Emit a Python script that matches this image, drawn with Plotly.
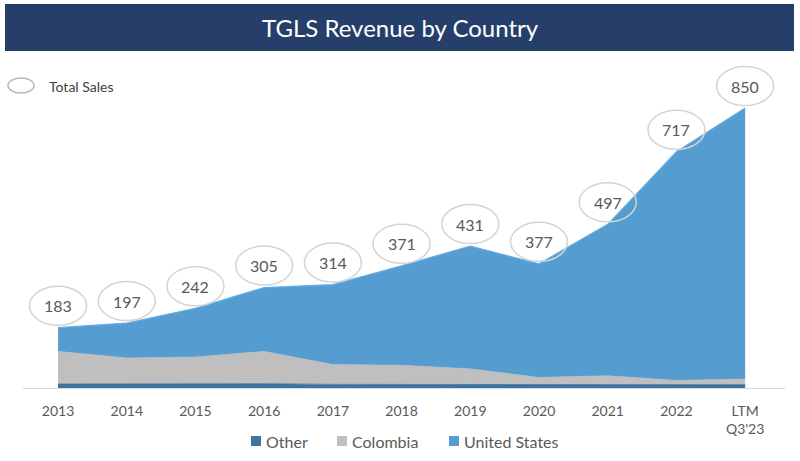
import plotly.graph_objects as go

categories = ["2013", "2014", "2015", "2016", "2017", "2018", "2019", "2020", "2021", "2022", "LTM<br>Q3'23"]
totals = [183, 197, 242, 305, 314, 371, 431, 377, 497, 717, 850]
other = [12, 13, 13, 13, 11, 11, 10, 9, 10, 9, 10]
colombia = [99, 78, 81, 98, 60, 58, 48, 23, 27, 14, 17]
united_states = [t - o - c for t, o, c in zip(totals, other, colombia)]
series_names = ["Other", "Colombia", "United States"]
series_colors = ["#3e729f", "#bfbfbf", "#559dd0"]

FONT = "Lato"
W, H = 800, 461
ML, MR, MT, MB = 23, 15, 0, 73
plot_h = H - MT - MB
plot_w = W - ML - MR
px_per_unit = 0.3294
ymax = plot_h / px_per_unit

def px_x(p):
    return (p - ML) / plot_w

def px_y(p):
    return (H - MB - p) / plot_h

x_idx = list(range(len(categories)))

fig = go.Figure()
fig.add_trace(go.Scatter(x=x_idx, y=other, name=series_names[0], stackgroup="one", mode="lines",
                         line=dict(width=0.8, color="#3a6e9a"), fillcolor=series_colors[0], showlegend=False))
fig.add_trace(go.Scatter(x=x_idx, y=colombia, name=series_names[1], stackgroup="one", mode="lines",
                         line=dict(width=0.8, color="#bdbdbd"), fillcolor=series_colors[1], showlegend=False))
fig.add_trace(go.Scatter(x=x_idx, y=united_states, name=series_names[2], stackgroup="one", mode="lines",
                         line=dict(width=1.2, color="#62aee6"), fillcolor=series_colors[2], showlegend=False))

shapes = []
annotations = []
offset = 22
for i, t in enumerate(totals):
    shapes.append(dict(type="circle", xref="x", yref="y", xsizemode="pixel", ysizemode="pixel",
                       xanchor=i, yanchor=t, x0=-28.5, x1=28.5, y0=offset - 19.5, y1=offset + 19.5,
                       line=dict(color="#d4d4d4", width=1.5), fillcolor="rgba(255,255,255,0)", layer="above"))
    annotations.append(dict(x=i, y=t, xref="x", yref="y", text=str(t), showarrow=False,
                            yshift=offset, font=dict(family=FONT, size=16, color="#595959")))

# title bar
shapes.append(dict(type="rect", xref="paper", yref="paper",
                   x0=px_x(5), x1=px_x(794), y0=px_y(51), y1=px_y(4),
                   fillcolor="#263e6a", line=dict(width=0), layer="above"))
annotations.append(dict(xref="paper", yref="paper", x=px_x(400), y=px_y(28), text="TGLS Revenue by Country",
                        showarrow=False, xanchor="center", yanchor="middle",
                        font=dict(family=FONT, size=24, color="white")))
# total sales key
shapes.append(dict(type="circle", xref="paper", yref="paper",
                   x0=px_x(8), x1=px_x(34), y0=px_y(93), y1=px_y(78),
                   line=dict(color="#b8b8b8", width=1.5), fillcolor="white", layer="above"))
annotations.append(dict(xref="paper", yref="paper", x=px_x(47), y=px_y(86), text="Total Sales",
                        showarrow=False, xanchor="left", yanchor="middle",
                        font=dict(family=FONT, size=14, color="#404040")))

# manual legend
legend_sq_x = [251, 337, 449]
for name, col, sx in zip(series_names, series_colors, legend_sq_x):
    shapes.append(dict(type="rect", xref="paper", yref="paper",
                       x0=px_x(sx), x1=px_x(sx + 10), y0=px_y(446), y1=px_y(436),
                       fillcolor=col, line=dict(width=0)))
    annotations.append(dict(xref="paper", yref="paper", x=px_x(sx + 13), y=px_y(441), text=name,
                            showarrow=False, xanchor="left", yanchor="middle",
                            font=dict(family=FONT, size=16, color="#595959")))

fig.update_layout(
    width=W, height=H,
    margin=dict(l=ML, r=MR, t=MT, b=MB, autoexpand=False),
    paper_bgcolor="white", plot_bgcolor="white",
    showlegend=False,
    shapes=shapes, annotations=annotations,
    hovermode=False,
    xaxis=dict(range=[-0.51, 10.58], tickmode="array", tickvals=x_idx, ticktext=categories,
               showgrid=False, zeroline=False, showline=True, linecolor="#d9d9d9", linewidth=1,
               ticks="", ticklabelstandoff=10, automargin=False,
               tickfont=dict(family=FONT, size=14, color="#595959"), fixedrange=True),
    yaxis=dict(range=[0, ymax], visible=False, showgrid=False, zeroline=False, fixedrange=True),
)

fig.write_html("out.html", config={"displayModeBar": False},
               post_script="document.body.style.margin='0';document.body.style.padding='0';")
